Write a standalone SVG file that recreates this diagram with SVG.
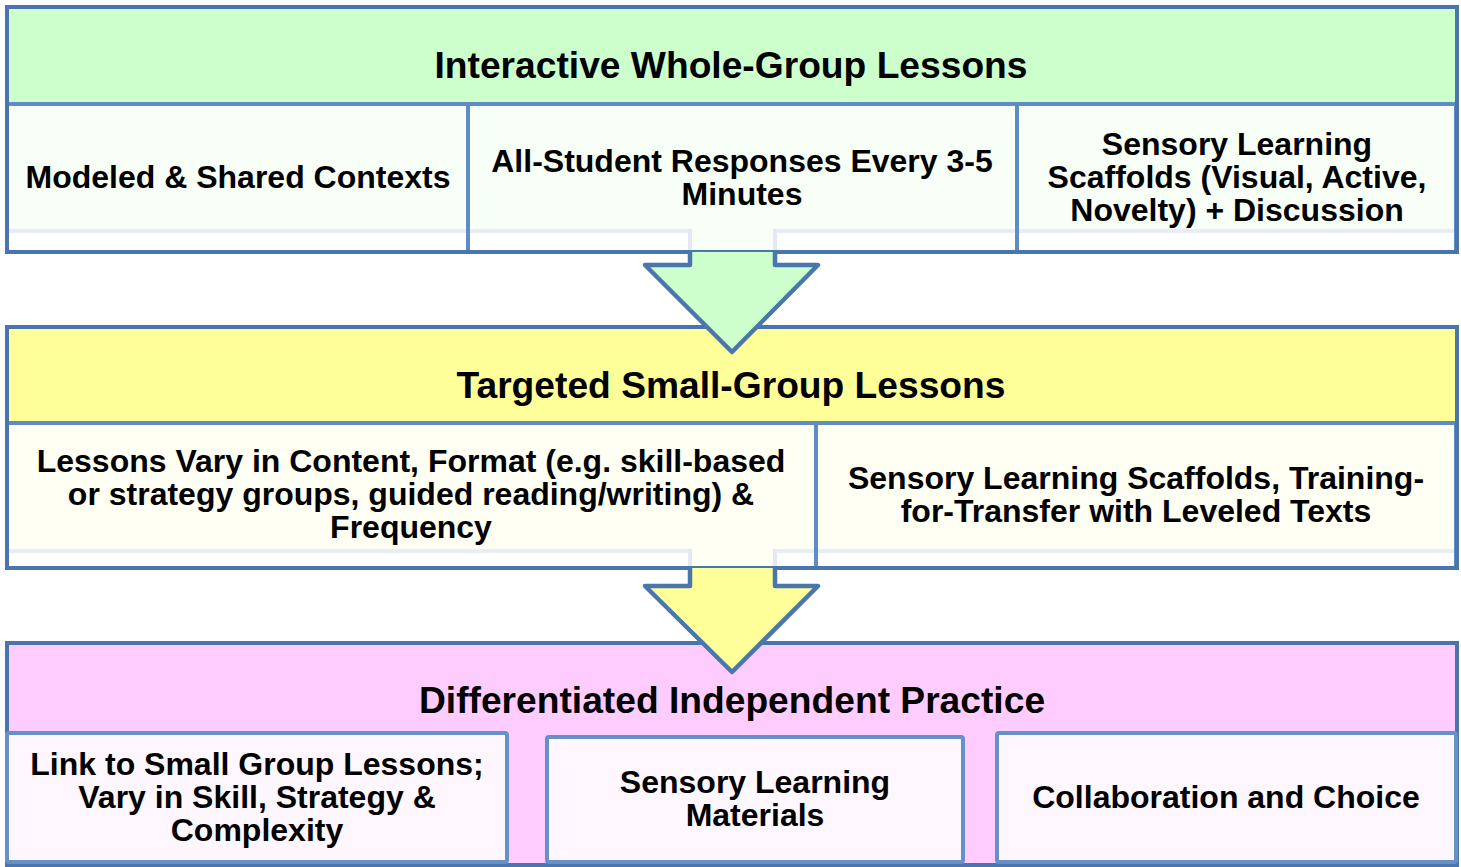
<svg xmlns="http://www.w3.org/2000/svg" width="1461" height="867" viewBox="0 0 1461 867">
<style>
.hd{font-family:"Liberation Sans",Arial,sans-serif;font-weight:bold;font-size:37.2px;fill:#000;text-anchor:middle}
.tx{font-family:"Liberation Sans",Arial,sans-serif;font-weight:bold;font-size:32px;fill:#000;text-anchor:middle}
.outer{fill:none;stroke:#4A74AD;stroke-width:4}
.sub{fill:none;stroke:#5F8CC5;stroke-width:4}
.pk{fill:#FFF7FF;stroke:#6690C8;stroke-width:4}
.strip{fill:#E8ECF5}
.faint{fill:none;stroke:#E3E8F2;stroke-width:4}
.arrow{stroke:#4A76AE;stroke-width:4.5;stroke-linejoin:round}
</style>
<rect width="1461" height="867" fill="#FFFFFF"/>

<g id="whole-group">
  <rect x="7" y="7" width="1450" height="97" fill="#CCFFCC"/>
  <rect x="7" y="104" width="1450" height="148" fill="#F7FFF7"/>
  <rect x="7" y="229" width="1450" height="4" class="strip"/>
  <rect x="7" y="233" width="1450" height="19" fill="#FFFFFF"/>
  <rect x="690" y="229" width="85" height="23" fill="#F7FFF7"/>
  <path d="M690 229V252M775 229V252" class="faint"/>
  <rect x="7" y="104" width="461" height="148" class="sub"/>
  <rect x="468" y="104" width="549" height="148" class="sub"/>
  <rect x="1017" y="104" width="439" height="148" class="sub"/>
  <rect x="7" y="7" width="1450" height="245" class="outer"/>
  <text class="hd" x="731" y="78">Interactive Whole-Group Lessons</text>
  <text class="tx" x="238" y="188">Modeled &amp; Shared Contexts</text>
  <text class="tx" x="742" y="172">All-Student Responses Every 3-5</text>
  <text class="tx" x="742" y="205">Minutes</text>
  <text class="tx" x="1237" y="155">Sensory Learning</text>
  <text class="tx" x="1237" y="188">Scaffolds (Visual, Active,</text>
  <text class="tx" x="1237" y="221">Novelty) + Discussion</text>
</g>

<g id="small-group">
  <rect x="7" y="327" width="1450" height="96" fill="#FFFF99"/>
  <rect x="7" y="423" width="1450" height="145" fill="#FFFFF3"/>
  <rect x="7" y="549" width="1450" height="4" class="strip"/>
  <rect x="7" y="553" width="1450" height="15" fill="#FFFFFF"/>
  <rect x="690" y="549" width="85" height="19" fill="#FFFFF3"/>
  <path d="M690 549V568M775 549V568" class="faint"/>
  <rect x="7" y="423" width="809" height="145" class="sub"/>
  <rect x="816" y="423" width="640" height="145" class="sub"/>
  <rect x="7" y="327" width="1450" height="241" class="outer"/>
  <text class="hd" x="731" y="398">Targeted Small-Group Lessons</text>
  <text class="tx" x="411" y="472">Lessons Vary in Content, Format (e.g. skill-based</text>
  <text class="tx" x="411" y="505">or strategy groups, guided reading/writing) &amp;</text>
  <text class="tx" x="411" y="538">Frequency</text>
  <text class="tx" x="1136" y="489">Sensory Learning Scaffolds, Training-</text>
  <text class="tx" x="1136" y="522">for-Transfer with Leveled Texts</text>
</g>

<g id="independent-practice">
  <rect x="7" y="643" width="1450" height="222" fill="#FFCCFF"/>
  <rect x="7" y="643" width="1450" height="222" class="outer"/>
  <rect x="7" y="733" width="500" height="129" rx="2" class="pk"/>
  <rect x="547" y="737" width="416" height="125" rx="2" class="pk"/>
  <rect x="997" y="733" width="459" height="129" rx="2" class="pk"/>
  <text class="hd" x="732" y="713">Differentiated Independent Practice</text>
  <text class="tx" x="257" y="775">Link to Small Group Lessons;</text>
  <text class="tx" x="257" y="808">Vary in Skill, Strategy &amp;</text>
  <text class="tx" x="257" y="841">Complexity</text>
  <text class="tx" x="755" y="793">Sensory Learning</text>
  <text class="tx" x="755" y="826">Materials</text>
  <text class="tx" x="1226" y="808">Collaboration and Choice</text>
</g>

<g id="connectors">
  <path d="M690 252V265H645L732 352L818 265H775V252" fill="#CCFFCC" class="arrow"/>
  <path d="M690 568V586H645L732 672L818 586H775V568" fill="#FFFF99" class="arrow"/>
</g>
</svg>
